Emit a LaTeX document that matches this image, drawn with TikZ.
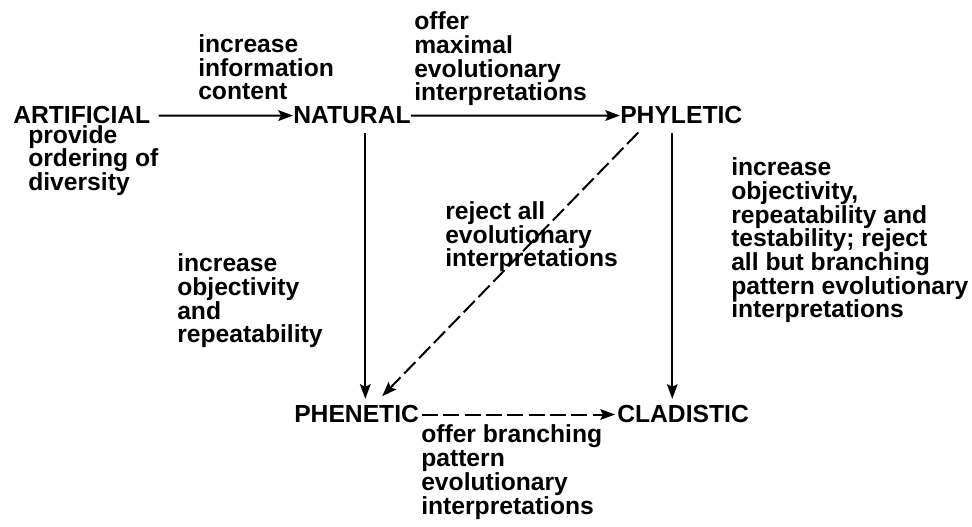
\documentclass[tikz,border=0pt]{standalone}
\usepackage{fontspec}
\setmainfont{Liberation Sans}
\usetikzlibrary{arrows.meta, positioning}

\begin{document}
\begin{tikzpicture}[
    x=0.75pt, y=-0.75pt,
    taxon/.style={inner sep=0pt, anchor=base west, font=\fontsize{18.5}{18.5}\selectfont\bfseries},
    lbl/.style={inner sep=0pt, anchor=base west, align=left, font=\fontsize{18.5}{17.8}\selectfont\bfseries},
    arr/.style={-{Stealth[length=11pt, width=8pt, inset=2pt]}, line width=1.5pt},
    darr/.style={arr, dash pattern=on 12pt off 4pt}
]
\useasboundingbox (0,0) rectangle (972,527);
% the five kinds of classification
\node[taxon] (artificial) at (13,124) {ARTIFICIAL};
\node[taxon] (natural) at (293,124) {NATURAL};
\node[taxon] (phyletic) at (620,124) {PHYLETIC};
\node[taxon] (phenetic) at (294,423) {PHENETIC};
\node[taxon] (cladistic) at (617,423) {CLADISTIC};
% what each step is for (anchored at the last line)
\node[lbl] (ordering) at (28,190.5) {provide\\ordering of\\diversity};
\node[lbl] (infocontent) at (198,100) {increase\\information\\content};
\node[lbl] (maxinterp) at (414,101) {offer\\maximal\\evolutionary\\interpretations};
\node[lbl] (rejectall) at (445,267) {reject all\\evolutionary\\interpretations};
\node[lbl] (objrep) at (177,343) {increase\\objectivity\\and\\repeatability};
\node[lbl] (branchonly) at (731,318) {increase\\objectivity,\\repeatability and\\testability; reject\\all but branching\\pattern evolutionary\\interpretations};
\node[lbl] (offerbranch) at (421,514) {offer branching\\pattern\\evolutionary\\interpretations};
% connectors
\draw[arr] ([xshift=6pt]artificial.east) -- (natural);
\draw[arr] (natural) -- (phyletic);
\draw[arr, shorten <=6pt, shorten >=5pt] ([xshift=10pt]natural.south) -- ([xshift=10pt]natural.south |- phenetic.north);
\draw[arr, shorten <=6.5pt, shorten >=5pt] ([xshift=-6.75pt]phyletic.south) -- ([xshift=-6.75pt]phyletic.south |- cladistic.north);
\draw[darr] ([xshift=-32.25pt, yshift=-6pt]phyletic.south) -- ([xshift=19.2pt, yshift=7pt]phenetic.north);
\draw[darr, shorten <=2pt, shorten >=1.5pt] (phenetic) -- (cladistic);
\end{tikzpicture}
\end{document}
